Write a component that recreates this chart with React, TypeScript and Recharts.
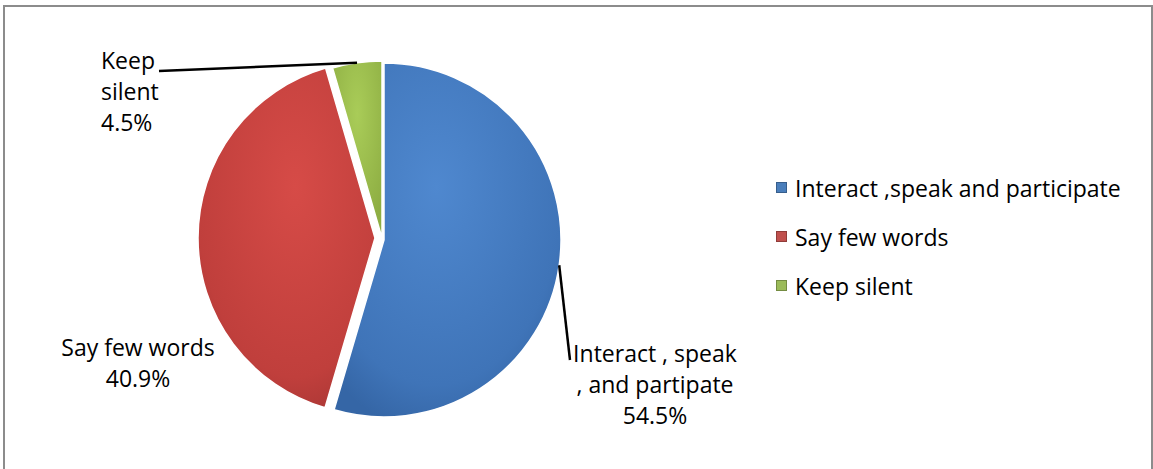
import React from 'react';
import { PieChart, Pie, Cell } from 'recharts';

const categories = ['Interact ,speak and participate', 'Say few words', 'Keep silent'];
const shares = [54.5, 40.9, 4.5];
const labelLines = [
  ['Interact , speak', ', and partipate', '54.5%'],
  ['Say few words', '40.9%'],
  ['Keep', 'silent', '4.5%'],
];
const gradientIds = ['gBlue', 'gRed', 'gGreen'];
const swatchColors = ['#4a7ebb', '#c0504d', '#9bbb59'];

const data = categories.map((name, i) => ({ name, value: shares[i] }));

// exploded slices: each slice gets its own centre
const sliceCenters = [
  { cx: 379, cy: 235 },
  { cx: 370, cy: 233 },
  { cx: 377, cy: 233 },
];

// where each label block sits (first baseline) and where its leader ends
const labelPos = [
  { x: 655, y: 362, anchor: 'middle', lineTo: { x: 570, y: 360 } },
  { x: 138, y: 356, anchor: 'middle', lineTo: null },
  { x: 101, y: 69, anchor: 'start', lineTo: { x: 159, y: 71 } },
];

const FONT = '"Open Sans", Lato, sans-serif';
const RAD = Math.PI / 180;

const makeLabel = (own: number) => (props: any) => {
  const { cx, cy, midAngle, outerRadius, index } = props;
  if (index !== own) return <g key={'lbl' + own + '-' + index} />;
  const pos = labelPos[index];
  const sx = cx + outerRadius * Math.cos(-midAngle * RAD);
  const sy = cy + outerRadius * Math.sin(-midAngle * RAD);
  return (
    <g key={'lbl' + index}>
      {pos.lineTo && (
        <line x1={sx} y1={sy} x2={pos.lineTo.x} y2={pos.lineTo.y} stroke="#000" strokeWidth={2.5} />
      )}
      <text x={pos.x} y={pos.y} textAnchor={pos.anchor as any} fontFamily={FONT} fontSize={23} fill="#000">
        {labelLines[index].map((t, k) => (
          <tspan key={k} x={pos.x} dy={k === 0 ? 0 : 31}>
            {t}
          </tspan>
        ))}
      </text>
    </g>
  );
};

const App: React.FC = () => {
  return (
    <div style={{ position: 'absolute', left: 0, top: 0, width: 1153, height: 469, background: '#fff', overflow: 'hidden' }}>
      <div
        style={{
          position: 'absolute',
          left: 3,
          top: 5,
          width: 1146,
          height: 500,
          border: '2px solid #8c8c8c',
        }}
      />
      <div style={{ position: 'absolute', left: 0, top: 0 }}>
        <PieChart width={760} height={469}>
          <defs>
            <radialGradient id="gBlue" cx="45%" cy="35%" r="70%">
              <stop offset="0%" stopColor="#4f88cf" />
              <stop offset="80%" stopColor="#3f74b8" />
              <stop offset="100%" stopColor="#3566a6" />
            </radialGradient>
            <radialGradient id="gRed" cx="55%" cy="35%" r="70%">
              <stop offset="0%" stopColor="#d64b47" />
              <stop offset="80%" stopColor="#c03f3c" />
              <stop offset="100%" stopColor="#aa3735" />
            </radialGradient>
            <radialGradient id="gGreen" cx="50%" cy="30%" r="70%">
              <stop offset="0%" stopColor="#a9cc58" />
              <stop offset="100%" stopColor="#8eae43" />
            </radialGradient>
          </defs>
          {sliceCenters.map((c, s) => (
            <Pie
              key={'pie' + s}
              data={data}
              dataKey="value"
              nameKey="name"
              cx={c.cx}
              cy={c.cy}
              outerRadius={177}
              startAngle={90}
              endAngle={-270}
              label={makeLabel(s)}
              labelLine={false}
              isAnimationActive={false}
            >
              {data.map((d, i) => (
                <Cell
                  key={d.name}
                  fill={i === s ? `url(#${gradientIds[i]})` : 'none'}
                  stroke={i === s ? '#fff' : 'none'}
                  strokeWidth={1.5}
                />
              ))}
            </Pie>
          ))}
        </PieChart>
      </div>
      <div style={{ position: 'absolute', left: 776, top: 163, fontFamily: FONT, fontSize: 23, color: '#000' }}>
        {categories.map((c, i) => (
          <div key={c} style={{ display: 'flex', alignItems: 'center', height: 49 }}>
            <span
              style={{
                display: 'inline-block',
                width: 11,
                height: 11,
                background: swatchColors[i],
                border: '1px solid rgba(0,0,0,0.25)',
                boxSizing: 'border-box',
                marginRight: 8,
              }}
            />
            <span>{c}</span>
          </div>
        ))}
      </div>
    </div>
  );
};

export default App;
